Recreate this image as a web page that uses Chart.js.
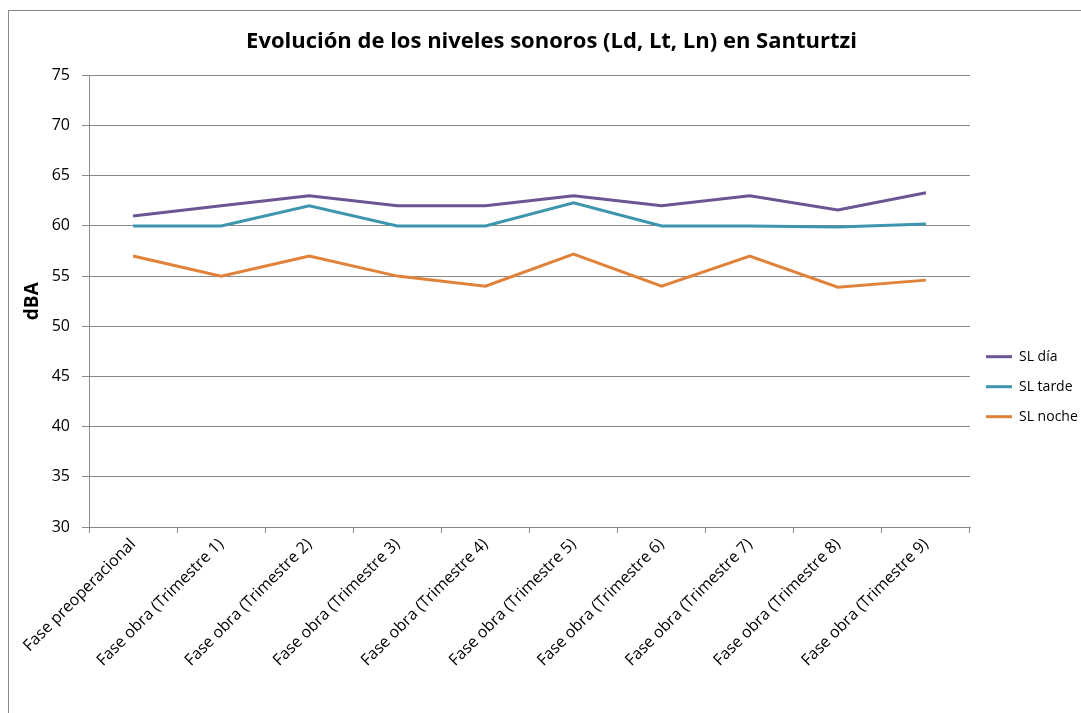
<!DOCTYPE html>
<html>
<head>
<meta charset="utf-8">
<script src="https://cdn.jsdelivr.net/npm/chart.js@4"></script>
<style>
  html, body { margin: 0; padding: 0; background: #ffffff; overflow: hidden; }
  #frame { position: absolute; left: 8px; top: 10px; width: 1200px; height: 900px; border: 1px solid #8a8a8a; box-sizing: border-box; }
  #c { position: absolute; left: 0; top: 0; }
</style>
</head>
<body>
<div id="frame"></div>
<canvas id="c" width="1081" height="713"></canvas>
<script>
const categories = [
  'Fase preoperacional',
  'Fase obra (Trimestre 1)',
  'Fase obra (Trimestre 2)',
  'Fase obra (Trimestre 3)',
  'Fase obra (Trimestre 4)',
  'Fase obra (Trimestre 5)',
  'Fase obra (Trimestre 6)',
  'Fase obra (Trimestre 7)',
  'Fase obra (Trimestre 8)',
  'Fase obra (Trimestre 9)'
];
const slDia   = [61, 62, 63, 62, 62, 63, 62, 63, 61.6, 63.3];
const slTarde = [60, 60, 62, 60, 60, 62.3, 60, 60, 59.9, 60.2];
const slNoche = [57, 55, 57, 55, 54, 57.2, 54, 57, 53.9, 54.6];
const seriesNames = ['SL día', 'SL tarde', 'SL noche'];
const yMin = 30, yMax = 75, yStep = 5;
const titleText = 'Evolución de los niveles sonoros (Ld, Lt, Ln) en Santurtzi';
const yTitle = 'dBA';

const gridColor = '#8a8a8a';
const mk = (label, data, color) => ({
  label, data, borderColor: color, backgroundColor: color,
  borderWidth: 3, pointRadius: 0, pointHoverRadius: 0, tension: 0, fill: false
});

const tweakPlugin = {
  id: 'tweaks',
  afterInit(chart) {
    const lg = chart.legend;
    if (lg) {
      const origFit = lg.fit.bind(lg);
      lg.fit = function () { origFit(); this.width = 111; };
    }
    const tb = chart.titleBlock;
    if (tb) {
      const origDraw = tb.draw.bind(tb);
      tb.draw = function (...args) {
        const ctx = this.ctx;
        ctx.save();
        ctx.translate(11, 0);
        origDraw(...args);
        ctx.restore();
      };
    }
  }
};

new Chart(document.getElementById('c'), {
  type: 'line',
  data: {
    labels: categories,
    datasets: [
      mk(seriesNames[0], slDia, '#6d5593'),
      mk(seriesNames[1], slTarde, '#3d96ae'),
      mk(seriesNames[2], slNoche, '#e0823a')
    ]
  },
  plugins: [tweakPlugin],
  options: {
    responsive: false,
    animation: false,
    layout: { padding: { left: 0, right: 0, top: 0, bottom: 0 } },
    plugins: {
      title: {
        display: true,
        text: titleText,
        color: '#000',
        font: { family: "'Open Sans', sans-serif", size: 22, weight: 'bold' },
        padding: { top: 29, bottom: 20 }
      },
      legend: {
        position: 'right',
        align: 'center',
        title: { display: true, text: '', padding: { top: 46, bottom: 0 } },
        labels: {
          color: '#000',
          font: { family: "'Open Sans', sans-serif", size: 14 },
          usePointStyle: true,
          pointStyle: 'line',
          pointStyleWidth: 26,
          padding: 16
        }
      },
      tooltip: { enabled: false }
    },
    scales: {
      x: {
        offset: true,
        grid: { display: true, drawOnChartArea: false, offset: true, color: gridColor, tickLength: 6 },
        border: { display: true, color: gridColor, width: 1 },
        ticks: {
          color: '#000',
          font: { family: "'Open Sans', sans-serif", size: 16 },
          maxRotation: 45, minRotation: 45, autoSkip: false, padding: 2
        },
        afterFit: s => { s.height = 186; }
      },
      y: {
        min: yMin, max: yMax,
        ticks: {
          stepSize: yStep, color: '#000',
          font: { family: "'Open Sans', sans-serif", size: 16 },
          padding: 12
        },
        grid: { color: gridColor, tickLength: 7, lineWidth: 1 },
        border: { display: true, color: gridColor, width: 1 },
        title: {
          display: true, text: yTitle, color: '#000',
          font: { family: "'Open Sans', sans-serif", size: 19, weight: 'bold' },
          padding: { top: 21, bottom: 0 }
        },
        afterFit: s => { s.width = 89; }
      }
    }
  }
});
</script>
</body>
</html>
